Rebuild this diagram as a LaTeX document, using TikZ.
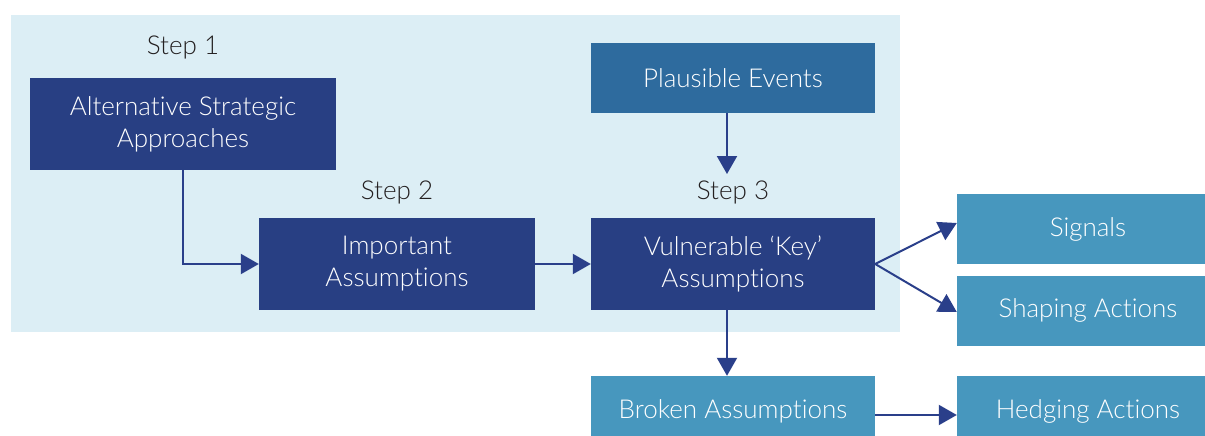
\documentclass[tikz,border=0pt]{standalone}
\usepackage{fontspec}
\setmainfont{Lato Light}[Ligatures=NoCommon,Contextuals=NoAlternate]
\usetikzlibrary{arrows.meta}
\definecolor{navy}{HTML}{283F83}
\definecolor{plaus}{HTML}{2E6B9E}
\definecolor{teal}{HTML}{4797BE}
\definecolor{arrowc}{HTML}{2A3F8A}
\definecolor{bgc}{HTML}{DCEEF5}
\definecolor{stepc}{HTML}{231F20}
\tikzset{
  boxbase/.style={rectangle, inner sep=0pt, text=white, align=center,
    font=\fontsize{26}{32}\selectfont},
  navybox/.style={boxbase, fill=navy, minimum width=#1, minimum height=92pt},
  plausbox/.style={boxbase, fill=plaus, minimum width=284pt, minimum height=70pt},
  tealbox/.style={boxbase, fill=teal, minimum width=#1, minimum height=70pt},
  steplabel/.style={text=stepc, inner sep=0pt, font=\fontsize{26}{30}\selectfont},
  conn/.style={draw=arrowc, line width=2pt, -{Triangle[length=18pt,width=20pt]}},
}
\begin{document}
\begin{tikzpicture}[x=1pt,y=-1pt]
\useasboundingbox (0,0) rectangle (1205,436);
\clip (0,0) rectangle (1205,436);
\fill[bgc] (11,15) rectangle (900,332);
\node[steplabel] (s1) at (183,47) {Step 1};
\node[steplabel] (s2) at (397,192) {Step 2};
\node[steplabel] (s3) at (733,192) {Step 3};
\node[navybox=306pt] (b1) at (183,124) {Alternat{}ive Strategic\\Approaches};
\node[navybox=276pt] (b2) at (397,264) {Important\\Assumpt{}ions};
\node[navybox=284pt] (vk) at (733,264) {Vulnerable ‘Key’\\Assumpt{}ions};
\node[plausbox] (pe) at (733,78) {Plausible Events};
\node[tealbox=262pt] (sig) at (1088,229) {Signals};
\node[tealbox=262pt] (sha) at (1088,310.5) {Shaping Act{}ions};
\node[tealbox=284pt] (ba) at (733,411) {Broken Assumpt{}ions};
\node[tealbox=262pt] (ha) at (1088,411) {Hedging Act{}ions};
\coordinate (petip) at (727,174);
\draw[conn] (b1.south) |- (b2.west);
\draw[conn] (b2.east) -- (vk.west);
\draw[conn] ([xshift=-6pt]pe.south) -- (petip);
\draw[conn] (vk.east) -- ([yshift=6pt]sig.west);
\draw[conn] (vk.east) -- ([yshift=-1.5pt]sha.west);
\draw[conn] ([xshift=-6pt]vk.south) -- ([xshift=-6pt]ba.north);
\draw[conn] ([yshift=-4pt]ba.east) -- ([yshift=-4pt]ha.west);
\end{tikzpicture}
\end{document}
